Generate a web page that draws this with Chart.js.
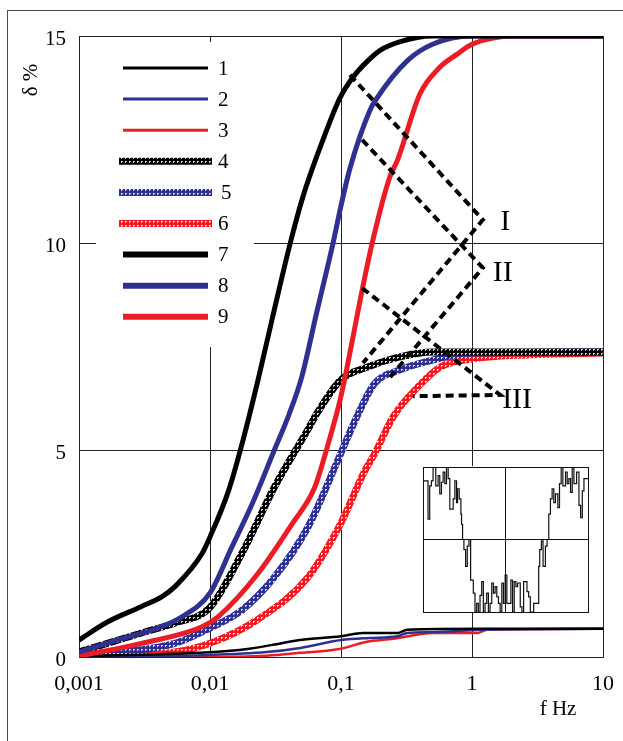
<!DOCTYPE html>
<html>
<head>
<meta charset="utf-8">
<title>δ % vs f</title>
<script src="https://cdn.jsdelivr.net/npm/chart.js@4.4.0/dist/chart.umd.min.js"></script>
<style>
  html, body { margin: 0; padding: 0; background: #fff; overflow: hidden; }
  #wrap { position: relative; width: 623px; height: 741px; }
  #frame { position: absolute; left: 7px; top: 10px; width: 660px; height: 780px;
           border-left: 1.5px solid #4a4a4a; border-top: 1.5px solid #4a4a4a; }
  #main { position: absolute; left: 0; top: 0; }
  #inset { position: absolute; left: 422px; top: 466px; background: #fff; }
</style>
</head>
<body>
<div id="wrap">
  <div id="frame"></div>
  <canvas id="main" width="623" height="741"></canvas>
  <canvas id="inset" width="167" height="147"></canvas>
</div>
<script>
/* ---------- datos ---------- */
const xTickValues = [0.001, 0.01, 0.1, 1, 10];
const xTickLabels = ["0,001", "0,01", "0,1", "1", "10"];
const yTickValues = [0, 5, 10, 15];
const seriesNames = ["1", "2", "3", "4", "5", "6", "7", "8", "9"];

// 1-3: lineas finas (grupo bajo)
const f1 = [0.001, 0.0083, 0.02, 0.036, 0.049, 0.1, 0.147, 0.27, 0.32, 1.2, 10];
const d1 = [0.02, 0.1, 0.2, 0.34, 0.41, 0.5, 0.58, 0.58, 0.66, 0.68, 0.68];
const f2 = [0.001, 0.01, 0.027, 0.049, 0.1, 0.166, 0.27, 0.32, 0.5, 1.2, 10];
const d2 = [0.0, 0.05, 0.12, 0.22, 0.41, 0.46, 0.5, 0.58, 0.6, 0.66, 0.68];
const f3 = [0.001, 0.0083, 0.027, 0.049, 0.1, 0.158, 0.25, 0.38, 0.5, 1.1, 1.3, 10];
const d3 = [0.0, 0.0, 0.03, 0.1, 0.2, 0.37, 0.44, 0.54, 0.58, 0.58, 0.66, 0.68];

// 4-6: lineas tramadas (grupo medio)
const f4 = [0.001, 0.003, 0.0054, 0.01, 0.0175, 0.031, 0.056, 0.066, 0.1, 0.158, 0.28, 0.5, 10];
const d4 = [0.12, 0.58, 0.82, 1.2, 2.5, 4.1, 5.5, 5.9, 6.7, 7.0, 7.25, 7.37, 7.37];
const f5 = [0.001, 0.0054, 0.01, 0.0175, 0.031, 0.056, 0.1, 0.132, 0.18, 0.28, 0.5, 1.0, 10];
const d5 = [0.05, 0.33, 0.7, 1.13, 1.93, 3.14, 4.93, 5.8, 6.6, 6.93, 7.17, 7.34, 7.37];
const f6 = [0.001, 0.0054, 0.01, 0.023, 0.056, 0.1, 0.152, 0.18, 0.25, 0.38, 0.57, 1.0, 2.9, 10];
const d6 = [0.0, 0.12, 0.33, 0.9, 1.93, 3.24, 4.5, 4.9, 5.8, 6.5, 7.0, 7.2, 7.3, 7.34];

// 7-9: lineas gruesas (grupo alto)
const f7 = [0.001, 0.00166, 0.003, 0.0043, 0.0054, 0.0087, 0.01, 0.0138, 0.0174, 0.0233, 0.03, 0.041, 0.051, 0.073, 0.098, 0.123, 0.16, 0.2, 0.28, 0.5, 10];
const d7 = [0.41, 0.85, 1.22, 1.46, 1.7, 2.5, 2.9, 4.0, 5.1, 6.7, 8.2, 10.0, 11.1, 12.5, 13.5, 14.0, 14.4, 14.66, 14.86, 15, 15];
const f8 = [0.001, 0.002, 0.004, 0.0061, 0.01, 0.0147, 0.021, 0.031, 0.04, 0.05, 0.065, 0.087, 0.1, 0.117, 0.166, 0.188, 0.32, 0.5, 1.0, 10];
const d8 = [0.12, 0.42, 0.7, 0.97, 1.55, 2.66, 3.7, 5.0, 5.85, 6.75, 8.3, 10.0, 10.9, 11.8, 13.2, 13.5, 14.4, 14.8, 15, 15];
const f9 = [0.001, 0.003, 0.0087, 0.0115, 0.023, 0.042, 0.063, 0.079, 0.1, 0.148, 0.176, 0.236, 0.27, 0.4, 0.57, 0.76, 1.0, 1.45, 2.0, 10];
const d9 = [0.02, 0.33, 0.73, 0.97, 2.0, 3.2, 4.1, 5.1, 6.3, 9.0, 10.1, 11.6, 12.0, 13.6, 14.25, 14.55, 14.8, 14.95, 15, 15];

// flechas discontinuas I, II, III
const arrowIx = [0.117, 1.21, 0.147];
const arrowIy = [14.06, 10.56, 7.1];
const arrowIIx = [0.145, 1.21, 0.237];
const arrowIIy = [12.49, 9.4, 6.76];
const arrowIIIx = [0.145, 1.64, 0.355];
const arrowIIIy = [8.91, 6.33, 6.3];
const romanLabels = ["I", "II", "III"];
const romanX = [1.79, 1.72, 2.21];
const romanY = [10.5, 9.28, 6.2];

// recuadro: señal escalonada
const insetT = [0, 15, 20, 25, 30, 38, 45, 50, 55, 60, 65, 70, 75, 80, 90, 95, 100, 103, 108, 113, 115, 118, 122, 127, 132, 137, 142, 150, 155, 160, 165, 170, 175, 180, 185, 190, 195, 200, 205, 210, 215, 220, 225, 230, 235, 240, 245, 250, 262, 267, 272, 277, 282, 290, 295, 300, 310, 315, 320, 330, 345, 348, 353, 358, 365, 370, 375, 380, 385, 390, 395, 402, 407, 412, 417, 425, 430, 435, 440, 445, 450, 458, 465, 470, 475, 480, 485, 492];
const insetV = [0.84, 0.81, 0.28, 0.74, 0.81, 1.0, 0.74, 0.88, 0.63, 0.79, 0.93, 0.77, 1.0, 0.84, 0.42, 0.56, 0.81, 0.51, 0.7, 0.56, 0.35, 0.21, 0.0, -0.14, -0.37, -0.09, 0.0, -0.56, -0.74, -1.0, -0.88, -1.0, -0.77, -0.58, -1.0, -0.88, -0.74, -1.0, -0.88, -0.6, -0.74, -0.65, -0.79, -0.88, -1.0, -0.6, -0.88, -0.49, -0.88, -0.56, -1.0, -0.58, -0.65, -0.6, -0.93, -1.0, -0.58, -0.72, -0.79, -1.0, -0.88, -0.37, -0.14, -0.02, -0.37, -0.09, 0.0, 0.35, 0.56, 0.7, 0.51, 0.63, 0.44, 0.77, 1.0, 0.74, 0.93, 0.77, 0.84, 0.65, 1.0, 0.77, 0.93, 0.47, 0.3, 0.67, 0.84, 0.84];

/* ---------- estilos ---------- */
const NEGRO = "#000000";
const AZUL = "#2E3192";
const ROJO = "#ED1C24";
const SERIF = "'Liberation Serif', 'Times New Roman', serif";

const mainCanvas = document.getElementById("main");
const mainCtx = mainCanvas.getContext("2d");

// trama de puntos blancos para las curvas 4-6
function crearTrama(color) {
  const c = document.createElement("canvas");
  c.width = 4;
  c.height = 4;
  const g = c.getContext("2d");
  g.fillStyle = color;
  g.fillRect(0, 0, 4, 4);
  g.fillStyle = "rgba(255,255,255,0.8)";
  g.fillRect(1, 1, 2, 1);
  g.fillRect(1, 2, 1, 1);
  return mainCtx.createPattern(c, "repeat");
}

const estilos = [
  { color: NEGRO, width: 2.5, legend: 3, trama: false },
  { color: AZUL, width: 2.5, legend: 3, trama: false },
  { color: ROJO, width: 2.5, legend: 3, trama: false },
  { color: crearTrama(NEGRO), width: 7, legend: 7, trama: true },
  { color: crearTrama(AZUL), width: 7, legend: 7, trama: true },
  { color: crearTrama(ROJO), width: 7, legend: 7, trama: true },
  { color: NEGRO, width: 5, legend: 6, trama: false },
  { color: AZUL, width: 5, legend: 6, trama: false },
  { color: ROJO, width: 5, legend: 6, trama: false }
];

const freqs = [f1, f2, f3, f4, f5, f6, f7, f8, f9];
const deltas = [d1, d2, d3, d4, d5, d6, d7, d8, d9];

function puntos(xs, ys) {
  return xs.map((x, i) => ({ x, y: ys[i] }));
}

const curvas = seriesNames.map((name, i) => ({
  label: name,
  data: puntos(freqs[i], deltas[i]),
  borderColor: estilos[i].color,
  borderWidth: estilos[i].width,
  pointRadius: 0,
  fill: false,
  cubicInterpolationMode: "monotone",
  borderCapStyle: "butt",
  order: estilos[i].trama ? 3 : (estilos[i].width < 3 ? 2 : 1)
}));

const flechas = [
  [arrowIx, arrowIy],
  [arrowIIx, arrowIIy],
  [arrowIIIx, arrowIIIy]
].map(([xs, ys], i) => ({
  label: "flecha " + romanLabels[i],
  data: puntos(xs, ys),
  borderColor: NEGRO,
  borderWidth: 4,
  borderDash: [8, 5],
  pointRadius: 0,
  tension: 0,
  fill: false,
  order: 0
}));

/* ---------- plugin: leyenda, rotulos y titulos ---------- */
const papelPlugin = {
  id: "papel",
  beforeDatasetsDraw(chart) {
    const ctx = chart.ctx;
    ctx.save();
    // fondo blanco de la leyenda (tapa la rejilla)
    ctx.fillStyle = "#fff";
    ctx.fillRect(96, 42, 158, 305);
    ctx.font = "21px " + SERIF;
    ctx.textBaseline = "middle";
    seriesNames.forEach((name, i) => {
      const st = estilos[i];
      const y = 68 + i * 31.1;
      ctx.strokeStyle = st.color;
      ctx.lineWidth = st.legend;
      ctx.beginPath();
      ctx.moveTo(st.trama ? 119 : 123, y);
      ctx.lineTo(st.trama ? 212 : 208, y);
      ctx.stroke();
      ctx.fillStyle = NEGRO;
      ctx.fillText(name, i === 4 ? 221 : 218, y + 1);
    });
    ctx.restore();
  },
  afterDatasetsDraw(chart) {
    const ctx = chart.ctx;
    const { x, y } = chart.scales;
    ctx.save();
    ctx.fillStyle = NEGRO;
    ctx.textAlign = "center";
    ctx.textBaseline = "middle";
    ctx.font = "30px " + SERIF;
    romanLabels.forEach((txt, i) => {
      ctx.fillText(txt, x.getPixelForValue(romanX[i]), y.getPixelForValue(romanY[i]));
    });
    // titulos de ejes
    ctx.font = "21px " + SERIF;
    ctx.fillText("f Hz", 558, 709);
    ctx.translate(31, 80);
    ctx.rotate(-Math.PI / 2);
    ctx.fillText("δ %", 0, 0);
    ctx.restore();
  }
};

/* ---------- grafica principal ---------- */
new Chart(mainCanvas, {
  type: "line",
  data: { datasets: [...flechas, ...curvas] },
  options: {
    responsive: false,
    animation: false,
    devicePixelRatio: 1,
    layout: { padding: { top: 36, right: 20, left: 0, bottom: 0 } },
    plugins: {
      legend: { display: false },
      tooltip: { enabled: false }
    },
    scales: {
      x: {
        type: "logarithmic",
        min: 0.001,
        max: 10,
        afterBuildTicks(scale) {
          scale.ticks = xTickValues.map((v) => ({ value: v }));
        },
        afterFit(scale) {
          // alto fijo del eje y sin margen lateral extra por las etiquetas
          scale.height = 84;
          scale.paddingLeft = 0;
          scale.paddingRight = 0;
        },
        ticks: {
          autoSkip: false,
          maxRotation: 0,
          padding: 14,
          color: NEGRO,
          font: { family: SERIF, size: 22 },
          callback: (v) => {
            const i = xTickValues.findIndex((t) => Math.abs(t - v) < v * 1e-6);
            return i >= 0 ? xTickLabels[i] : "";
          }
        },
        grid: { color: "#222", lineWidth: 1, drawTicks: false },
        border: { color: "#222", width: 1 }
      },
      y: {
        min: 0,
        max: 15,
        afterBuildTicks(scale) {
          scale.ticks = yTickValues.map((v) => ({ value: v }));
        },
        afterFit(scale) {
          scale.width = 79;
        },
        ticks: {
          padding: 13,
          labelOffset: 3,
          color: NEGRO,
          font: { family: SERIF, size: 21 }
        },
        grid: { color: "#222", lineWidth: 1, drawTicks: false },
        border: { color: "#222", width: 1 }
      }
    }
  },
  plugins: [papelPlugin]
});

/* ---------- recuadro con la señal ---------- */
new Chart(document.getElementById("inset"), {
  type: "line",
  data: {
    datasets: [{
      data: puntos(insetT, insetV),
      borderColor: "#111",
      borderWidth: 1.2,
      stepped: "after",
      pointRadius: 0,
      fill: false
    }]
  },
  options: {
    responsive: false,
    animation: false,
    devicePixelRatio: 1,
    layout: { padding: 1 },
    plugins: { legend: { display: false }, tooltip: { enabled: false } },
    scales: {
      x: {
        type: "linear",
        min: 0,
        max: 492,
        ticks: { display: false, stepSize: 246 },
        grid: { color: "#111", drawTicks: false },
        border: { color: "#111" }
      },
      y: {
        min: -1,
        max: 1,
        ticks: { display: false, stepSize: 1 },
        grid: { color: "#111", drawTicks: false },
        border: { color: "#111" }
      }
    }
  }
});
</script>
</body>
</html>
